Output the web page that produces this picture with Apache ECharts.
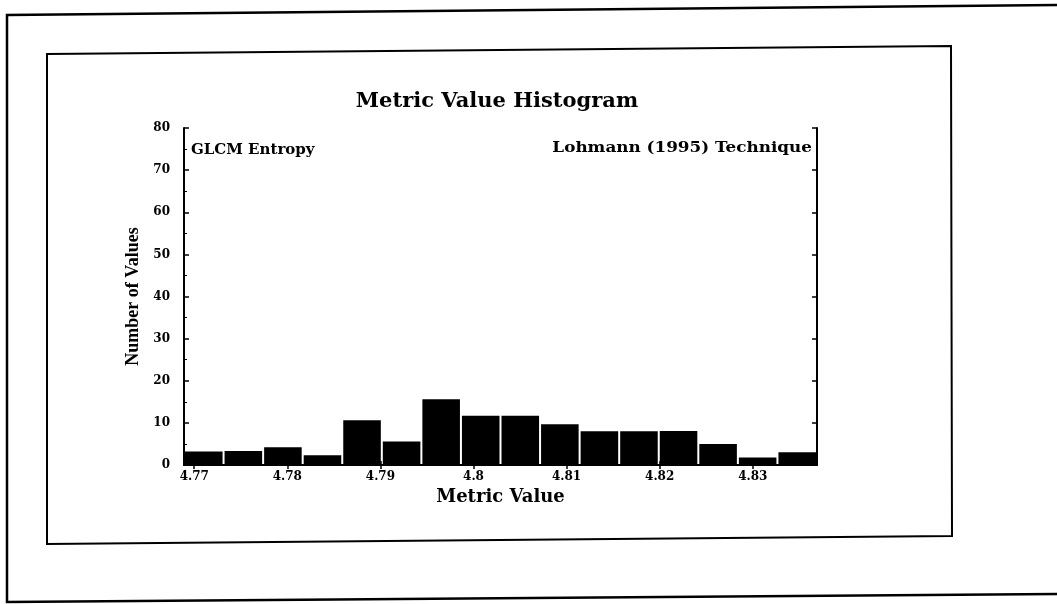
<!DOCTYPE html>
<html>
<head>
<meta charset="utf-8">
<title>Metric Value Histogram</title>
<script src="https://cdn.jsdelivr.net/npm/echarts@6/dist/echarts.min.js"></script>
<style>
  html, body { margin: 0; padding: 0; background: #ffffff; }
  #chart { width: 1057px; height: 604px; }
</style>
</head>
<body>
<div id="chart"></div>
<script>
// Histogram of GLCM entropy metric values (16 bins)
const binEdges = [4.7689, 4.77315, 4.7774, 4.78165, 4.7859, 4.79015, 4.7944, 4.79865,
                  4.8029, 4.80715, 4.8114, 4.81565, 4.8199, 4.82415, 4.8284, 4.83265, 4.8369];
const binCounts = [3.2, 3.3, 4.2, 2.3, 10.6, 5.6, 15.6, 11.7, 11.7, 9.7, 8, 8, 8.1, 5, 1.8, 3];
const xTickLabels = [4.77, 4.78, 4.79, 4.8, 4.81, 4.82, 4.83];
const yTicks = [0, 10, 20, 30, 40, 50, 60, 70, 80];

const SERIF = '"DejaVu Serif", "Liberation Serif", serif';
const TIMES = '"Liberation Serif", "DejaVu Serif", serif';

const bins = binCounts.map((c, i) => [binEdges[i], binEdges[i + 1], c]);

const chart = echarts.init(document.getElementById('chart'), null, { renderer: 'canvas' });

const axisLineStyle = { color: '#000', width: 2 };

chart.setOption({
  animation: false,
  backgroundColor: '#fff',
  grid: { left: 184, top: 128, width: 633, height: 337, containLabel: false, outerBoundsMode: 'none' },
  xAxis: [
    {
      type: 'value', position: 'bottom',
      min: binEdges[0], max: binEdges[binEdges.length - 1],
      axisLine: { show: true, lineStyle: axisLineStyle },
      axisTick: { show: true, inside: true, length: 4, customValues: xTickLabels, lineStyle: { color: '#000', width: 1.5 } },
      axisLabel: {
        show: true, customValues: xTickLabels, margin: 6,
        color: '#000', fontFamily: SERIF, fontWeight: 'bold', fontSize: 12,
        formatter: v => String(+v.toFixed(2))
      },
      splitLine: { show: false },
      name: 'Metric Value', nameLocation: 'middle', nameGap: 20,
      nameTextStyle: { color: '#000', fontFamily: SERIF, fontWeight: 'bold', fontSize: 18 }
    },
    {
      type: 'value', position: 'top',
      min: binEdges[0], max: binEdges[binEdges.length - 1],
      axisLine: { show: true, lineStyle: axisLineStyle },
      axisTick: { show: true, inside: true, length: 4, customValues: xTickLabels, lineStyle: { color: '#000', width: 1.5 } },
      axisLabel: { show: false },
      splitLine: { show: false }
    }
  ],
  yAxis: [
    {
      type: 'value', position: 'left', min: 0, max: 80, interval: 10,
      axisLine: { show: true, lineStyle: axisLineStyle },
      axisTick: { show: true, inside: true, length: 5, lineStyle: { color: '#000', width: 1.5 } },
      minorTick: { show: true, splitNumber: 2, length: 3, lineStyle: { color: '#000', width: 1 } },
      axisLabel: {
        show: true, margin: 14, color: '#000', fontFamily: SERIF, fontWeight: 'bold', fontSize: 12,
        customValues: yTicks
      },
      splitLine: { show: false },
      name: 'Number of Values', nameLocation: 'middle', nameGap: 37, nameRotate: 90,
      nameTextStyle: { color: '#000', fontFamily: TIMES, fontWeight: 'bold', fontSize: 18 }
    },
    {
      type: 'value', position: 'right', min: 0, max: 80, interval: 10,
      axisLine: { show: true, lineStyle: axisLineStyle },
      axisTick: { show: true, inside: true, length: 5, lineStyle: { color: '#000', width: 1.5 } },
      axisLabel: { show: false },
      splitLine: { show: false }
    }
  ],
  title: {
    text: 'Metric Value Histogram', left: 492, top: 86, textAlign: 'center',
    textStyle: { color: '#000', fontFamily: SERIF, fontWeight: 'bold', fontSize: 21 }
  },
  graphic: [
    // page frame
    { type: 'polyline', silent: true, shape: { points: [[1057, 5], [7, 15], [7, 602], [1057, 594]] },
      style: { stroke: '#000', lineWidth: 2.5, fill: null } },
    // panel frame
    { type: 'polygon', silent: true, shape: { points: [[47, 54], [951, 46], [952, 536], [47, 544]] },
      style: { stroke: '#000', lineWidth: 2, fill: null } },
    // in-plot annotations
    { type: 'text', silent: true, x: 191, y: 150,
      style: { text: 'GLCM Entropy', fill: '#000', font: 'bold 15px ' + SERIF,
               textAlign: 'left', textVerticalAlign: 'middle' } },
    { type: 'text', silent: true, x: 812, y: 148, scaleX: 1.12, originX: 0, originY: 0,
      style: { text: 'Lohmann (1995) Technique', fill: '#000', font: 'bold 15px ' + SERIF,
               textAlign: 'right', textVerticalAlign: 'middle' } }
  ],
  series: [
    {
      type: 'custom',
      xAxisIndex: 0, yAxisIndex: 0,
      data: bins,
      encode: { x: [0, 1], y: 2 },
      renderItem: (params, api) => {
        const topLeft = api.coord([api.value(0), api.value(2)]);
        const bottomRight = api.coord([api.value(1), 0]);
        return {
          type: 'rect',
          shape: {
            x: topLeft[0] + 1,
            y: topLeft[1],
            width: bottomRight[0] - topLeft[0] - 2,
            height: bottomRight[1] - topLeft[1]
          },
          style: { fill: '#000' }
        };
      }
    }
  ]
});
</script>
</body>
</html>
